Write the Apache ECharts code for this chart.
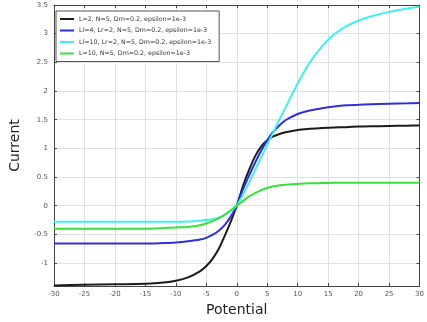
<!DOCTYPE html>
<html>
<head>
<meta charset="utf-8">
<script src="https://cdn.jsdelivr.net/npm/echarts@6/dist/echarts.min.js"></script>
<style>
  html, body { margin: 0; padding: 0; background: #fff; }
  #chart { width: 427px; height: 322px; }
</style>
</head>
<body>
<div id="chart"></div>
<script>
// Potential sample points (shared by all curves)
const potential = [-30, -25, -20, -15, -12, -10, -8, -6, -5, -4, -3, -2, -1, 0, 1, 2, 3, 4, 5, 6, 7, 8, 10, 12, 14, 16, 18, 20, 22, 25, 28, 30];

// Current for each parameter set
const currentL2 = [-1.39, -1.38, -1.37, -1.36, -1.34, -1.31, -1.25, -1.14, -1.05, -0.93, -0.76, -0.53, -0.28, 0, 0.34, 0.62, 0.86, 1.03, 1.14, 1.21, 1.25, 1.28, 1.32, 1.34, 1.355, 1.365, 1.37, 1.38, 1.385, 1.39, 1.395, 1.40];
const currentLl4 = [-0.66, -0.66, -0.66, -0.66, -0.65, -0.64, -0.62, -0.59, -0.56, -0.51, -0.44, -0.34, -0.19, 0, 0.28, 0.52, 0.75, 0.96, 1.14, 1.29, 1.40, 1.49, 1.60, 1.66, 1.70, 1.73, 1.75, 1.76, 1.77, 1.78, 1.785, 1.79];
const currentLl10 = [-0.28, -0.28, -0.28, -0.28, -0.28, -0.28, -0.275, -0.26, -0.25, -0.235, -0.21, -0.16, -0.09, 0, 0.19, 0.40, 0.62, 0.84, 1.06, 1.28, 1.50, 1.71, 2.13, 2.50, 2.78, 2.99, 3.13, 3.23, 3.30, 3.38, 3.44, 3.47];
const currentL10 = [-0.40, -0.40, -0.40, -0.40, -0.39, -0.38, -0.37, -0.34, -0.31, -0.27, -0.22, -0.16, -0.08, 0, 0.08, 0.16, 0.22, 0.27, 0.31, 0.34, 0.355, 0.365, 0.38, 0.39, 0.395, 0.40, 0.40, 0.40, 0.40, 0.40, 0.40, 0.40];

const seriesNames = [
  'L=2, N=5, Dm=0.2, epsilon=1e-3',
  'Ll=4, Lr=2, N=5, Dm=0.2, epsilon=1e-3',
  'Ll=10, Lr=2, N=5, Dm=0.2, epsilon=1e-3',
  'L=10, N=5, Dm=0.2, epsilon=1e-3'
];
const seriesValues = [currentL2, currentLl4, currentLl10, currentL10];
const seriesColors = ['#1c1c1c', '#2f2fd6', '#3ff0f0', '#38e038'];

const yTicks = [-1, -0.5, 0, 0.5, 1, 1.5, 2, 2.5, 3, 3.5];

const tickFont = { fontFamily: 'DejaVu Sans', fontSize: 7, color: '#555' };
const gridLine = { show: true, lineStyle: { color: '#e0e0e0', width: 1 } };
const frameLine = { show: true, onZero: false, lineStyle: { color: '#444', width: 1 } };
const innerTick = { show: true, inside: true, length: 3, lineStyle: { color: '#444' } };

const chart = echarts.init(document.getElementById('chart'), null, { renderer: 'canvas' });

chart.setOption({
  animation: false,
  backgroundColor: '#fff',
  grid: { left: 52, right: 5, top: 5, bottom: 32, containLabel: false },
  legend: {
    orient: 'vertical',
    left: 56,
    top: 11,
    padding: [5, 8, 5, 4],
    itemGap: 5.5,
    itemWidth: 14,
    itemHeight: 2,
    icon: 'rect',
    borderColor: '#555',
    borderWidth: 1,
    backgroundColor: '#fff',
    textStyle: { fontFamily: 'DejaVu Sans', fontSize: 6.3, color: '#333' },
    data: seriesNames
  },
  xAxis: [
    {
      type: 'value', min: -30, max: 30, interval: 5,
      name: 'Potential', nameLocation: 'middle', nameGap: 17,
      nameTextStyle: { fontFamily: 'DejaVu Sans', fontSize: 14, color: '#222' },
      axisLine: frameLine,
      axisTick: innerTick,
      axisLabel: Object.assign({ margin: 5 }, tickFont),
      splitLine: gridLine
    },
    {
      type: 'value', position: 'top', min: -30, max: 30, interval: 5,
      axisLine: frameLine,
      axisTick: innerTick,
      axisLabel: { show: false },
      splitLine: { show: false }
    }
  ],
  yAxis: [
    {
      type: 'value', min: -1.4, max: 3.5,
      name: 'Current', nameLocation: 'middle', nameGap: 32,
      nameTextStyle: { fontFamily: 'DejaVu Sans', fontSize: 14, color: '#222' },
      axisLine: frameLine,
      axisTick: Object.assign({ customValues: yTicks }, innerTick),
      axisLabel: Object.assign({ margin: 6, customValues: yTicks }, tickFont),
      splitLine: gridLine
    },
    {
      type: 'value', position: 'right', min: -1.4, max: 3.5,
      axisLine: frameLine,
      axisTick: Object.assign({ customValues: yTicks }, innerTick),
      axisLabel: { show: false, customValues: yTicks },
      splitLine: { show: false }
    }
  ],
  series: seriesNames.map((name, i) => ({
    name: name,
    type: 'line',
    xAxisIndex: 0,
    yAxisIndex: 0,
    smooth: 0.3,
    showSymbol: false,
    symbol: 'none',
    color: seriesColors[i],
    lineStyle: { width: 2, color: seriesColors[i] },
    data: potential.map((x, k) => [x, seriesValues[i][k]])
  }))
});
</script>
</body>
</html>
